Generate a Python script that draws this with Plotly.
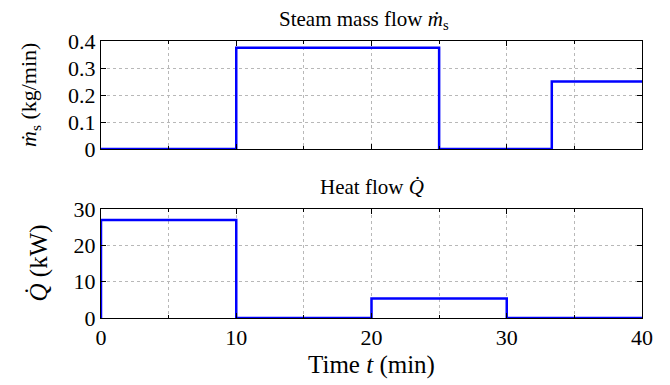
import plotly.graph_objects as go

# Data
steam_t = [0, 10, 25, 33.33, 40]
steam_m = [0, 0.375, 0, 0.25, 0.25]
heat_t = [0, 0, 10, 20, 30, 40]
heat_q = [0, 27, 0, 5.4, 0, 0]
x_ticks = [0, 10, 20, 30, 40]
x_ticktext = ["0", "10", "20", "30", "40"]
steam_yticks = [0, 0.1, 0.2, 0.3, 0.4]
steam_yticktext = ["0", "0.1", "0.2", "0.3", "0.4"]
heat_yticks = [0, 10, 20, 30]
heat_yticktext = ["0", "10", "20", "30"]

FONT = "Liberation Serif"
BLUE = "#0000ff"
W, H = 670, 385

fig = go.Figure()
fig.add_trace(go.Scatter(x=steam_t, y=steam_m, mode="lines", line=dict(color=BLUE, width=2.5, shape="hv"),
                         xaxis="x", yaxis="y", showlegend=False))
fig.add_trace(go.Scatter(x=heat_t, y=heat_q, mode="lines", line=dict(color=BLUE, width=2.5, shape="hv"),
                         xaxis="x2", yaxis="y2", showlegend=False))

xd = [101 / W, 642 / W]
yd_top = [1 - 149 / H, 1 - 41 / H]
yd_bot = [1 - 318 / H, 1 - 209 / H]

common_axis = dict(showline=True, linecolor="black", linewidth=1, mirror="allticks",
                   ticks="inside", ticklen=5, tickcolor="black",
                   showgrid=True, gridcolor="#b8b8b8", griddash="dot", gridwidth=1,
                   zeroline=False, automargin=False,
                   tickfont=dict(family=FONT, size=22, color="black"))
minor_x = dict(dtick=5, showgrid=True, gridcolor="#b8b8b8", griddash="dot", gridwidth=1,
               ticks="inside", ticklen=3, tickcolor="black")

fig.update_layout(
    width=W, height=H,
    margin=dict(l=0, r=0, t=0, b=0),
    paper_bgcolor="white", plot_bgcolor="white",
    font=dict(family=FONT, color="black"),
    xaxis=dict(common_axis, domain=xd, anchor="y", range=[0, 40], tickvals=x_ticks,
               showticklabels=False, minor=minor_x),
    yaxis=dict(common_axis, domain=yd_top, anchor="x", range=[0, 0.4], tickvals=steam_yticks,
               ticktext=steam_yticktext),
    xaxis2=dict(common_axis, domain=xd, anchor="y2", range=[0, 40], tickvals=x_ticks,
                ticktext=x_ticktext, minor=minor_x,
                title=dict(text="Time <i>t</i> (min)", font=dict(family=FONT, size=25), standoff=6)),
    yaxis2=dict(common_axis, domain=yd_bot, anchor="x2", range=[0, 30], tickvals=heat_yticks,
                ticktext=heat_yticktext),
    annotations=[
        dict(text="Steam mass flow <i>ṁ</i><sub>s</sub>", xref="paper", yref="paper",
             x=(xd[0] + xd[1]) / 2 - 8 / W, y=yd_top[1], yshift=6, xanchor="center", yanchor="bottom",
             showarrow=False, font=dict(family=FONT, size=21)),
        dict(text="Heat flow <i>Q̇</i>", xref="paper", yref="paper",
             x=(xd[0] + xd[1]) / 2, y=yd_bot[1], yshift=8, xanchor="center", yanchor="bottom",
             showarrow=False, font=dict(family=FONT, size=21)),
        dict(text="<i>ṁ</i><sub>s</sub> (kg/min)", xref="paper", yref="paper",
             x=30 / W, y=(yd_top[0] + yd_top[1]) / 2, xanchor="center", yanchor="middle",
             textangle=-90, showarrow=False, font=dict(family=FONT, size=22)),
        dict(text="<i>Q̇</i> (kW)", xref="paper", yref="paper",
             x=38 / W, y=(yd_bot[0] + yd_bot[1]) / 2, xanchor="center", yanchor="middle",
             textangle=-90, showarrow=False, font=dict(family=FONT, size=25)),
    ],
)

fig.write_html("out.html")
